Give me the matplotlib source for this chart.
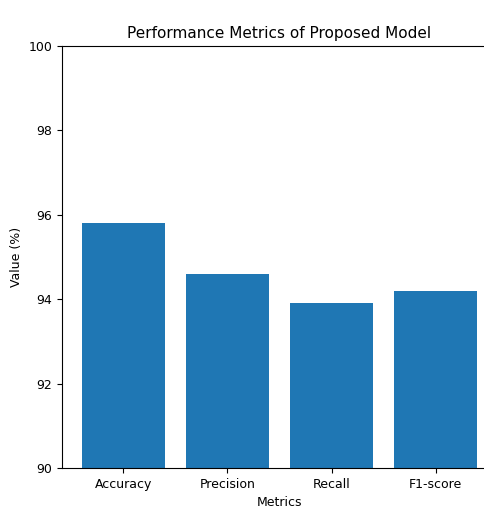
import matplotlib
matplotlib.use("Agg")
import matplotlib.pyplot as plt

# Data
metrics = ["Accuracy", "Precision", "Recall", "F1-score"]
values = [95.8, 94.6, 93.9, 94.2]
y_ticks = [90, 92, 94, 96, 98, 100]

fig = plt.figure(figsize=(4.85, 5.12), dpi=100)
# axes slightly wider than the figure: the reference is cropped on the right
ax = fig.add_axes([62 / 485, 1 - 468 / 512, 435 / 485, 422 / 512])

ax.bar(metrics, values, color="#1f77b4")
ax.set_ylim(90, 100)
ax.set_yticks(y_ticks)
ax.set_title("Performance Metrics of Proposed Model", fontsize=11)
ax.set_xlabel("Metrics", fontsize=9)
ax.set_ylabel("Value (%)", fontsize=9)
ax.tick_params(labelsize=9)
ax.spines["right"].set_visible(False)  # falls outside the cropped picture anyway

fig.savefig("out.png", dpi=100)
